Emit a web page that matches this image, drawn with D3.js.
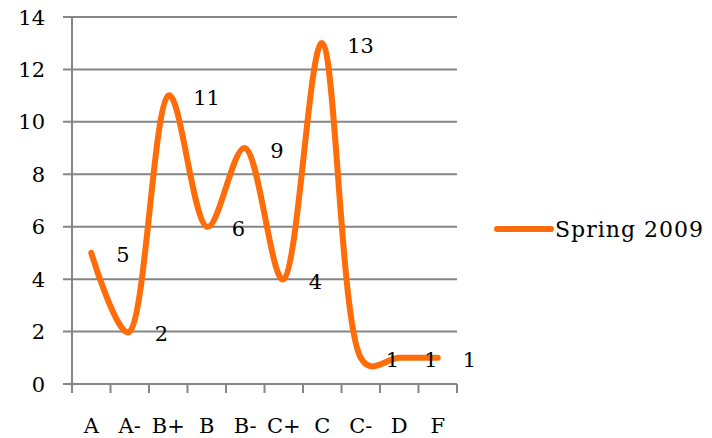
<!DOCTYPE html>
<html>
<head>
<meta charset="utf-8">
<script src="https://cdn.jsdelivr.net/npm/d3@7"></script>
<style>
  body { margin: 0; background: #fff; }
  text { font-family: "DejaVu Serif", serif; fill: #000; }
</style>
</head>
<body>
<div id="chart"></div>
<script>
const grades = ["A", "A-", "B+", "B", "B-", "C+", "C", "C-", "D", "F"];
const counts = [5, 2, 11, 6, 9, 4, 13, 1, 1, 1];
const yTicks = [0, 2, 4, 6, 8, 10, 12, 14];
const seriesName = "Spring 2009";

const W = 712, H = 438;
const margin = { top: 17, right: 255, bottom: 54, left: 72 };
const width = W - margin.left - margin.right;
const height = H - margin.top - margin.bottom;

const svg = d3.select("#chart")
  .append("svg")
  .attr("width", W)
  .attr("height", H);

const g = svg.append("g")
  .attr("transform", `translate(${margin.left}, ${margin.top})`);

const x = d3.scaleBand().domain(grades).range([0, width]);
const y = d3.scaleLinear().domain([0, 14]).range([height, 0]);

// gridlines
g.append("g")
  .selectAll("line")
  .data(yTicks)
  .join("line")
  .attr("x1", -9)
  .attr("x2", width)
  .attr("y1", d => y(d))
  .attr("y2", d => y(d))
  .attr("stroke", "#858585")
  .attr("stroke-width", 2);

// y axis line
g.append("line")
  .attr("x1", 0).attr("x2", 0)
  .attr("y1", 0).attr("y2", height + 9)
  .attr("stroke", "#858585")
  .attr("stroke-width", 2);

// x axis ticks at category boundaries
const bounds = grades.map(d => x(d)).concat([width]);
g.append("g")
  .selectAll("line")
  .data(bounds)
  .join("line")
  .attr("x1", d => d).attr("x2", d => d)
  .attr("y1", height).attr("y2", height + 9)
  .attr("stroke", "#858585")
  .attr("stroke-width", 2);

// y tick labels
g.append("g")
  .selectAll("text")
  .data(yTicks)
  .join("text")
  .attr("x", -27)
  .attr("y", d => y(d))
  .attr("dy", "0.36em")
  .attr("text-anchor", "end")
  .attr("font-size", 21)
  .text(d => d);

// x tick labels
g.append("g")
  .selectAll("text")
  .data(grades)
  .join("text")
  .attr("x", d => x(d) + x.bandwidth() / 2)
  .attr("y", height + 49)
  .attr("text-anchor", "middle")
  .attr("font-size", 21)
  .text(d => d);

const pts = grades.map((d, i) => ({ g: d, v: counts[i] }));

const line = d3.line()
  .x(d => x(d.g) + x.bandwidth() / 2)
  .y(d => y(d.v))
  .curve(d3.curveCatmullRom.alpha(0.3));

g.append("path")
  .datum(pts)
  .attr("fill", "none")
  .attr("stroke", "#ff6d0a")
  .attr("stroke-width", 6)
  .attr("stroke-linecap", "round")
  .attr("stroke-linejoin", "round")
  .attr("d", line);

// data labels
g.append("g")
  .selectAll("text")
  .data(pts)
  .join("text")
  .attr("x", d => x(d.g) + x.bandwidth() / 2 + 25)
  .attr("y", d => y(d.v) + 2)
  .attr("dy", "0.36em")
  .attr("font-size", 21)
  .text(d => d.v);

// legend
const leg = svg.append("g").attr("transform", `translate(497, 229)`);
leg.append("line")
  .attr("x1", 0).attr("x2", 54)
  .attr("y1", 0).attr("y2", 0)
  .attr("stroke", "#ff6d0a")
  .attr("stroke-width", 6)
  .attr("stroke-linecap", "round");
leg.append("text")
  .attr("x", 58)
  .attr("y", 0)
  .attr("dy", "0.36em")
  .attr("font-size", 22)
  .attr("letter-spacing", 1)
  .text(seriesName);
</script>
</body>
</html>
